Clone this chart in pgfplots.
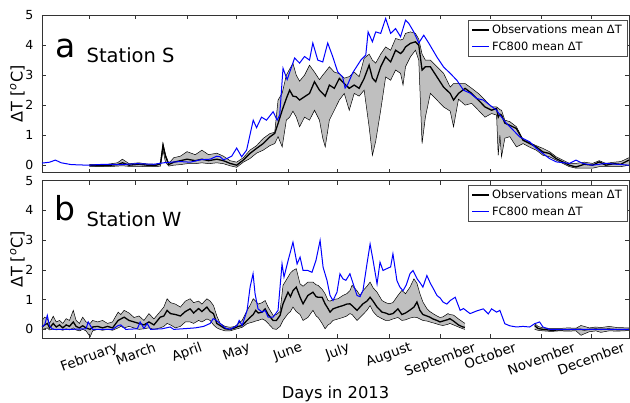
\documentclass[border=0pt]{standalone}
\usepackage{fontspec}
\setmainfont{DejaVu Sans}
\usepackage{graphicx}
\usepackage{pgfplots}
\pgfplotsset{compat=1.18}
\usepgfplotslibrary{fillbetween}
\usepackage{pgfplotstable}

\definecolor{bandgray}{RGB}{191,191,191}

% Station S observations: day, lower, mean, upper
\pgfplotstableread{
d lo mean hi
31 -0.05 0.00 0.03
36 -0.05 -0.02 0.02
42 -0.05 -0.01 0.03
48 -0.03 0.02 0.08
51 -0.02 0.08 0.20
55 -0.04 0.00 0.05
61 -0.04 0.03 0.08
66 -0.05 0.00 0.04
71 -0.05 -0.01 0.03
74 -0.03 0.05 0.08
75.5 0.50 0.67 0.72
77 0.10 0.30 0.35
79 -0.03 0.02 0.06
82 0.00 0.10 0.25
86 0.02 0.15 0.30
90 0.05 0.20 0.45
95 0.05 0.15 0.35
99 0.08 0.20 0.50
103 0.05 0.15 0.35
108 0.08 0.20 0.40
112 0.05 0.15 0.30
116 -0.02 0.06 0.15
120 -0.07 0.00 0.10
124 0.10 0.17 0.25
128 0.22 0.39 0.50
132 0.40 0.56 0.65
136 0.50 0.72 0.89
140 0.65 0.94 1.05
143 0.72 1.06 1.10
145 0.95 1.39 2.17
147.5 0.61 1.83 2.40
150 1.50 2.22 3.00
152 1.60 2.50 3.20
154 1.80 2.30 3.39
156 1.60 2.28 3.00
158 1.28 2.17 2.80
161 1.60 2.28 3.00
164 1.50 2.39 3.33
167 1.83 2.78 3.10
170 1.50 2.50 2.85
172 0.90 2.39 3.00
173.5 0.61 2.30 3.10
176 1.50 2.67 3.28
179 1.83 2.56 3.10
182 2.17 2.89 3.05
185 2.39 2.72 2.90
188 1.83 2.56 2.95
191 2.39 2.67 3.10
194 2.30 2.56 2.95
197 2.50 2.89 3.56
200 1.28 3.33 3.70
202 0.33 2.90 3.50
204 0.80 2.78 3.40
207 1.83 3.28 3.70
210 2.94 3.61 3.94
213 2.83 3.44 3.83
216 3.17 3.83 4.22
219 3.06 3.72 4.17
220.5 2.67 3.80 4.20
222 3.28 3.94 4.39
225 3.61 4.06 4.44
228 3.83 4.11 4.39
230 3.50 4.00 4.20
232 0.72 3.17 3.70
234 1.60 3.28 3.50
237 2.39 3.28 3.50
241 2.17 2.94 3.28
245 1.94 2.60 3.06
249 1.80 2.39 2.60
251 1.28 2.17 2.72
254 2.20 2.39 2.72
258 2.00 2.56 2.72
262 2.06 2.39 2.56
266 1.83 2.17 2.39
270 1.60 1.94 2.17
274 1.72 1.83 1.94
277 1.67 1.89 1.94
278 0.33 1.60 1.90
279 1.00 1.70 1.85
280 0.28 1.67 1.83
282 0.90 1.40 1.50
285 0.95 1.33 1.45
289 0.61 1.22 1.28
293 0.72 0.83 0.85
297 0.60 0.72 0.75
301 0.50 0.61 0.65
305 0.33 0.44 0.56
309 0.28 0.39 0.45
313 0.17 0.22 0.28
317 0.06 0.11 0.17
321 -0.05 0.00 0.06
325 -0.10 -0.06 0.06
330 -0.10 0.03 0.10
335 -0.10 0.00 0.06
339 -0.05 0.11 0.15
343 -0.05 0.00 0.06
348 -0.05 0.05 0.10
352 -0.05 0.03 0.12
357 0.00 0.17 0.25
}\obsS

% Station S FC800
\pgfplotstableread{
d v
2.4 0.07
7 0.10
10.5 0.17
14 0.08
20 0.02
30 0.00
40 0.03
50 0.02
60 0.05
70 0.03
76 0.08
80 0.10
86 0.12
92 0.10
98 0.18
104 0.20
108 0.30
110 0.28
112 0.18
114 0.22
117 0.30
120 0.57
123 0.28
126 0.50
130 1.50
132 1.25
135 1.60
138 1.50
142 1.78
144.5 1.50
146 1.67
148 3.23
150.5 2.85
153.5 3.33
155 3.57
158 3.40
161 3.62
164 3.50
166 4.07
169 3.50
172 3.44
175 4.07
178 3.62
181 3.11
184 2.94
185.5 2.57
187 2.68
190 3.07
195 3.50
198 3.67
199.4 4.44
202 4.11
204 4.44
207 4.39
210 4.89
213 4.39
216 4.55
219 4.28
222 4.83
224 4.72
227 4.44
230 4.07
233 4.33
236 4.07
241 3.60
245 3.27
249 3.06
253 2.83
257 2.50
261 2.40
265 2.22
269 2.17
273 2.00
277 1.83
280 1.60
283 1.39
287 1.17
291 0.94
297 0.78
301 0.56
305 0.39
309 0.22
313 0.11
321 0.06
325 0.17
329 0.06
335 0.00
343 0.06
357 0.00
}\fcS

% Station W observations, first segment
\pgfplotstableread{
d lo mean hi
2.4 0.00 0.08 0.30
4 0.02 0.15 0.41
5.6 0.05 0.20 0.35
7 -0.02 0.05 0.20
9.2 0.02 0.20 0.44
11 -0.02 0.08 0.25
13 0.00 0.15 0.30
15 -0.03 0.05 0.20
17 0.02 0.15 0.36
19 -0.02 0.10 0.30
21.3 0.05 0.25 0.64
23 -0.02 0.10 0.30
25 -0.05 0.05 0.20
27 0.00 0.12 0.41
29 -0.05 0.05 0.25
31.5 -0.25 0.00 0.20
33 -0.05 0.08 0.30
36 0.00 0.10 0.25
39 -0.03 0.05 0.30
42 0.00 0.10 0.20
45 -0.03 0.05 0.25
48.4 0.05 0.30 0.58
50 0.10 0.35 0.50
52 0.05 0.41 0.64
55 0.10 0.30 0.55
58 0.05 0.25 0.40
61 0.00 0.20 0.45
64 0.02 0.15 0.30
67 0.05 0.25 0.53
70 0.00 0.15 0.35
73.8 0.05 0.41 0.60
76 0.10 0.45 0.75
78 0.20 0.64 1.03
80 0.15 0.53 0.90
83 0.05 0.50 0.85
86 0.10 0.45 0.75
89 0.25 0.60 0.95
91.9 0.25 0.69 1.03
94 0.20 0.55 0.90
97 0.30 0.70 0.95
99 0.25 0.60 0.85
102 0.35 0.75 1.03
104 0.30 0.60 0.95
106 0.15 0.53 0.80
108 0.05 0.20 0.45
110 0.00 0.13 0.20
113 -0.05 0.02 0.10
116 -0.05 0.00 0.07
119 0.00 0.05 0.10
121 0.03 0.10 0.20
123.3 0.07 0.13 0.30
126.3 0.19 0.30 0.64
128 0.22 0.40 0.80
130 0.25 0.50 1.03
131.5 0.28 0.64 0.95
133 0.30 0.55 0.85
135.4 0.35 0.58 0.90
137.2 0.30 0.69 0.97
139 0.20 0.50 0.75
142 0.02 0.30 0.47
144 0.00 0.30 0.50
146.2 0.10 0.47 0.60
148 0.30 0.86 1.48
151 0.53 1.25 1.76
152.5 0.60 1.10 1.90
154 0.75 1.30 1.98
156 0.60 1.42 2.04
158.3 0.50 1.08 1.53
160.1 0.30 0.86 1.45
163 0.40 1.14 1.59
166.1 0.64 1.25 1.59
168 0.45 1.10 1.50
169.2 0.40 1.08 1.48
171.6 0.20 1.08 1.35
173.4 0.02 0.86 1.20
175.2 0.15 0.70 0.97
176.4 0.19 0.58 0.95
178.2 0.30 0.69 1.00
181.2 0.35 0.75 1.03
184.2 0.40 0.80 1.14
186.5 0.45 0.85 1.20
188.4 0.53 0.86 1.30
189.7 0.50 0.80 1.48
192.7 0.30 0.64 1.30
194.5 0.40 0.75 1.14
196.3 0.50 0.86 1.30
198.7 0.64 0.95 1.45
200.6 0.80 1.08 1.59
202.4 0.60 0.95 1.40
204.8 0.45 0.75 1.25
207.8 0.36 0.58 0.97
210 0.30 0.55 0.90
212 0.30 0.50 0.86
214.4 0.35 0.53 0.90
217.4 0.40 0.69 1.14
219.8 0.30 0.50 1.31
222 0.32 0.55 1.20
224.7 0.38 0.65 1.42
227.1 0.41 0.75 1.70
228.9 0.40 0.92 1.55
230.7 0.35 0.64 1.20
232.5 0.30 0.50 0.92
234.9 0.28 0.45 0.70
236.7 0.25 0.41 0.60
238.6 0.22 0.35 0.53
241 0.18 0.30 0.45
242.8 0.15 0.25 0.40
244.6 0.13 0.28 0.42
247.6 0.17 0.33 0.53
248.8 0.20 0.36 0.50
251 0.15 0.28 0.48
254 0.08 0.15 0.35
256.6 0.02 0.08 0.25
257.9 0.00 0.07 0.20
}\obsWa

% Station W observations, second segment
\pgfplotstableread{
d lo mean hi
300 0.00 0.13 0.20
302 -0.03 0.03 0.10
305 -0.05 0.00 0.05
310 -0.07 -0.03 0.03
315 -0.05 -0.02 0.03
320 -0.06 -0.01 0.05
325 -0.05 0.00 0.04
328 -0.20 0.00 0.13
330 -0.15 -0.02 0.10
333 -0.08 0.00 0.05
337 -0.05 0.01 0.08
340 -0.10 0.00 0.06
345 -0.05 0.01 0.10
350 -0.06 -0.01 0.06
357 -0.04 0.00 0.05
}\obsWb

% Station W FC800
\pgfplotstableread{
d v
2.4 0.10
4 0.15
5.6 0.47
7 0.10
9 0.00
20 0.00
29 0.02
30.3 0.25
33 0.00
45 0.00
48.4 0.13
50 0.15
53 0.00
60 0.02
61.7 0.25
64 0.03
65.9 0.20
68 0.00
75 0.02
79.8 0.08
82 0.00
90 0.03
95 0.05
100 0.10
104 0.20
105.8 0.36
107 0.33
110 0.20
113 0.05
116 0.00
120.3 0.13
121.5 0.30
123.3 0.13
126.3 0.64
128.1 1.42
129.9 1.87
131.1 1.20
132.9 0.69
135.4 0.58
137.2 0.64
139 0.41
142 0.41
145 0.64
147.4 2.20
148.6 1.76
151 2.30
154 2.93
156.5 2.20
158.3 2.43
160.1 1.98
163 1.98
165.5 1.92
167.9 2.32
170.4 2.99
172.2 2.09
174.6 1.64
176.4 1.14
178.2 0.97
180.6 1.25
182.4 1.87
184.2 1.70
186 1.65
188.4 1.87
190 1.60
192.7 1.14
194.5 1.10
196.3 1.31
198.7 2.20
200.6 2.87
202.4 2.32
204.8 1.53
206.6 2.26
208.4 1.98
211 2.05
213 2.10
214.4 2.54
216.8 1.64
218.6 1.42
220.5 1.30
222.5 1.50
224.7 1.87
226.5 1.98
229 1.70
231 1.55
232.5 1.42
234.9 1.81
237 1.55
239 1.35
241 1.14
243 1.05
244.6 0.92
247 0.85
249 0.97
252 1.08
255 0.64
257 0.70
261 0.53
265 0.62
269 0.69
272 0.52
274 0.69
277 0.58
279 0.64
282 0.19
285 0.12
289 0.08
293 0.10
297 0.08
300 0.19
303 0.25
305 0.08
309 0.00
320 0.00
330 0.00
340 0.00
357 0.00
}\fcW

\pgfplotsset{
  geom/.style={
    scale only axis, width=587pt, height=157.6pt,
    xmin=2.4, xmax=357, ymax=5,
  },
  panel/.style={
    geom,
    ytick={0,1,2,3,4,5},
    xtick={31,59,90,120,151,181,212,243,273,304,334},
    tick align=inside,
    major tick length=4pt,
    axis line style={black!80, line width=0.7pt},
    tick style={black!80, line width=0.6pt},
    /pgf/number format/assume math mode=true,
    ticklabel style={font=\fontsize{12.5}{14}\selectfont},
    yticklabel style={anchor=east, inner sep=0pt, xshift=-8.5pt},
    ylabel={ΔT [\textsuperscript{\itshape o}C]},
    ylabel style={at={(axis description cs:-0.029,0.5)}, anchor=south, inner sep=0pt, font=\fontsize{16}{18}\selectfont},
    legend cell align=left,
    legend image code/.code={\draw[##1] (0pt,0pt) -- (17pt,0pt);},
    legend style={at={(rel axis cs:1,1)}, anchor=north east, xshift=-2pt, yshift=-4pt,
      font=\fontsize{11.4}{13}\selectfont, draw=black!70, line width=0.5pt,
      inner xsep=3pt, inner ysep=3pt, row sep=2.5pt},
  },
}

\begin{document}
\begin{tikzpicture}

% ---- Station S: band layer
\begin{axis}[geom, hide axis, at={(0pt,165.6pt)}, anchor=south west, ymin=-0.25]
  \addplot[name path=loS, black, line width=0.5pt] table[x=d, y=lo]{\obsS};
  \addplot[name path=hiS, black, line width=0.5pt] table[x=d, y=hi]{\obsS};
  \addplot[bandgray] fill between[of=loS and hiS];
\end{axis}
% ---- Station S: main axis
\begin{axis}[panel, at={(0pt,165.6pt)}, anchor=south west, ymin=-0.25, xticklabels={},
    legend style={yshift=-0.6pt}]
  \addplot[black, line width=1.3pt, forget plot] table[x=d, y=mean]{\obsS};
  \addplot[blue, line width=1pt, forget plot] table[x=d, y=v]{\fcS};
  \addlegendimage{black, line width=1.6pt}
  \addlegendentry{Observations mean ΔT}
  \addlegendimage{blue, line width=1.5pt}
  \addlegendentry{FC800 mean ΔT}
  \node[anchor=base west, inner sep=0pt, font=\fontsize{33}{33}\selectfont] at (axis description cs:0.0221,0.7337) {a};
  \node[anchor=base west, inner sep=0pt, font=\fontsize{19.5}{20}\selectfont] at (axis description cs:0.0758,0.702) {Station S};
\end{axis}

% ---- Station W: band layer
\begin{axis}[geom, hide axis, at={(0pt,0pt)}, anchor=south west, ymin=-0.3]
  \addplot[name path=loWa, black, line width=0.5pt] table[x=d, y=lo]{\obsWa};
  \addplot[name path=hiWa, black, line width=0.5pt] table[x=d, y=hi]{\obsWa};
  \addplot[bandgray] fill between[of=loWa and hiWa];
  \addplot[name path=loWb, black, line width=0.5pt] table[x=d, y=lo]{\obsWb};
  \addplot[name path=hiWb, black, line width=0.5pt] table[x=d, y=hi]{\obsWb};
  \addplot[bandgray] fill between[of=loWb and hiWb];
\end{axis}
% ---- Station W: main axis
\begin{axis}[panel, at={(0pt,0pt)}, anchor=south west, ymin=-0.3,
    xticklabels={\rotatebox{20}{February},\rotatebox{20}{March},\rotatebox{20}{April},\rotatebox{20}{May},\rotatebox{20}{June},\rotatebox{20}{July},\rotatebox{20}{August},\rotatebox{20}{September},\rotatebox{20}{October},\rotatebox{20}{November},\rotatebox{20}{December}},
    xticklabel style={anchor=north, inner sep=0pt, yshift=-3pt, font=\fontsize{13.5}{15}\selectfont},
    xlabel={Days in 2013},
    xlabel style={at={(axis description cs:0.5,-0.305)}, anchor=north, inner sep=0pt, font=\fontsize{16.3}{18}\selectfont}]
  \addplot[black, line width=1.3pt, forget plot] table[x=d, y=mean]{\obsWa};
  \addplot[black, line width=1.3pt, forget plot] table[x=d, y=mean]{\obsWb};
  \addplot[blue, line width=1pt, forget plot] table[x=d, y=v]{\fcW};
  \addlegendimage{black, line width=1.6pt}
  \addlegendentry{Observations mean ΔT}
  \addlegendimage{blue, line width=1.5pt}
  \addlegendentry{FC800 mean ΔT}
  \node[anchor=base west, inner sep=0pt, font=\fontsize{33}{33}\selectfont] at (axis description cs:0.0204,0.7506) {b};
  \node[anchor=base west, inner sep=0pt, font=\fontsize{19.5}{20}\selectfont] at (axis description cs:0.0758,0.708) {Station W};
\end{axis}

\path (-42pt,-64.7pt) rectangle (588pt,338.3pt);
\end{tikzpicture}
\end{document}
